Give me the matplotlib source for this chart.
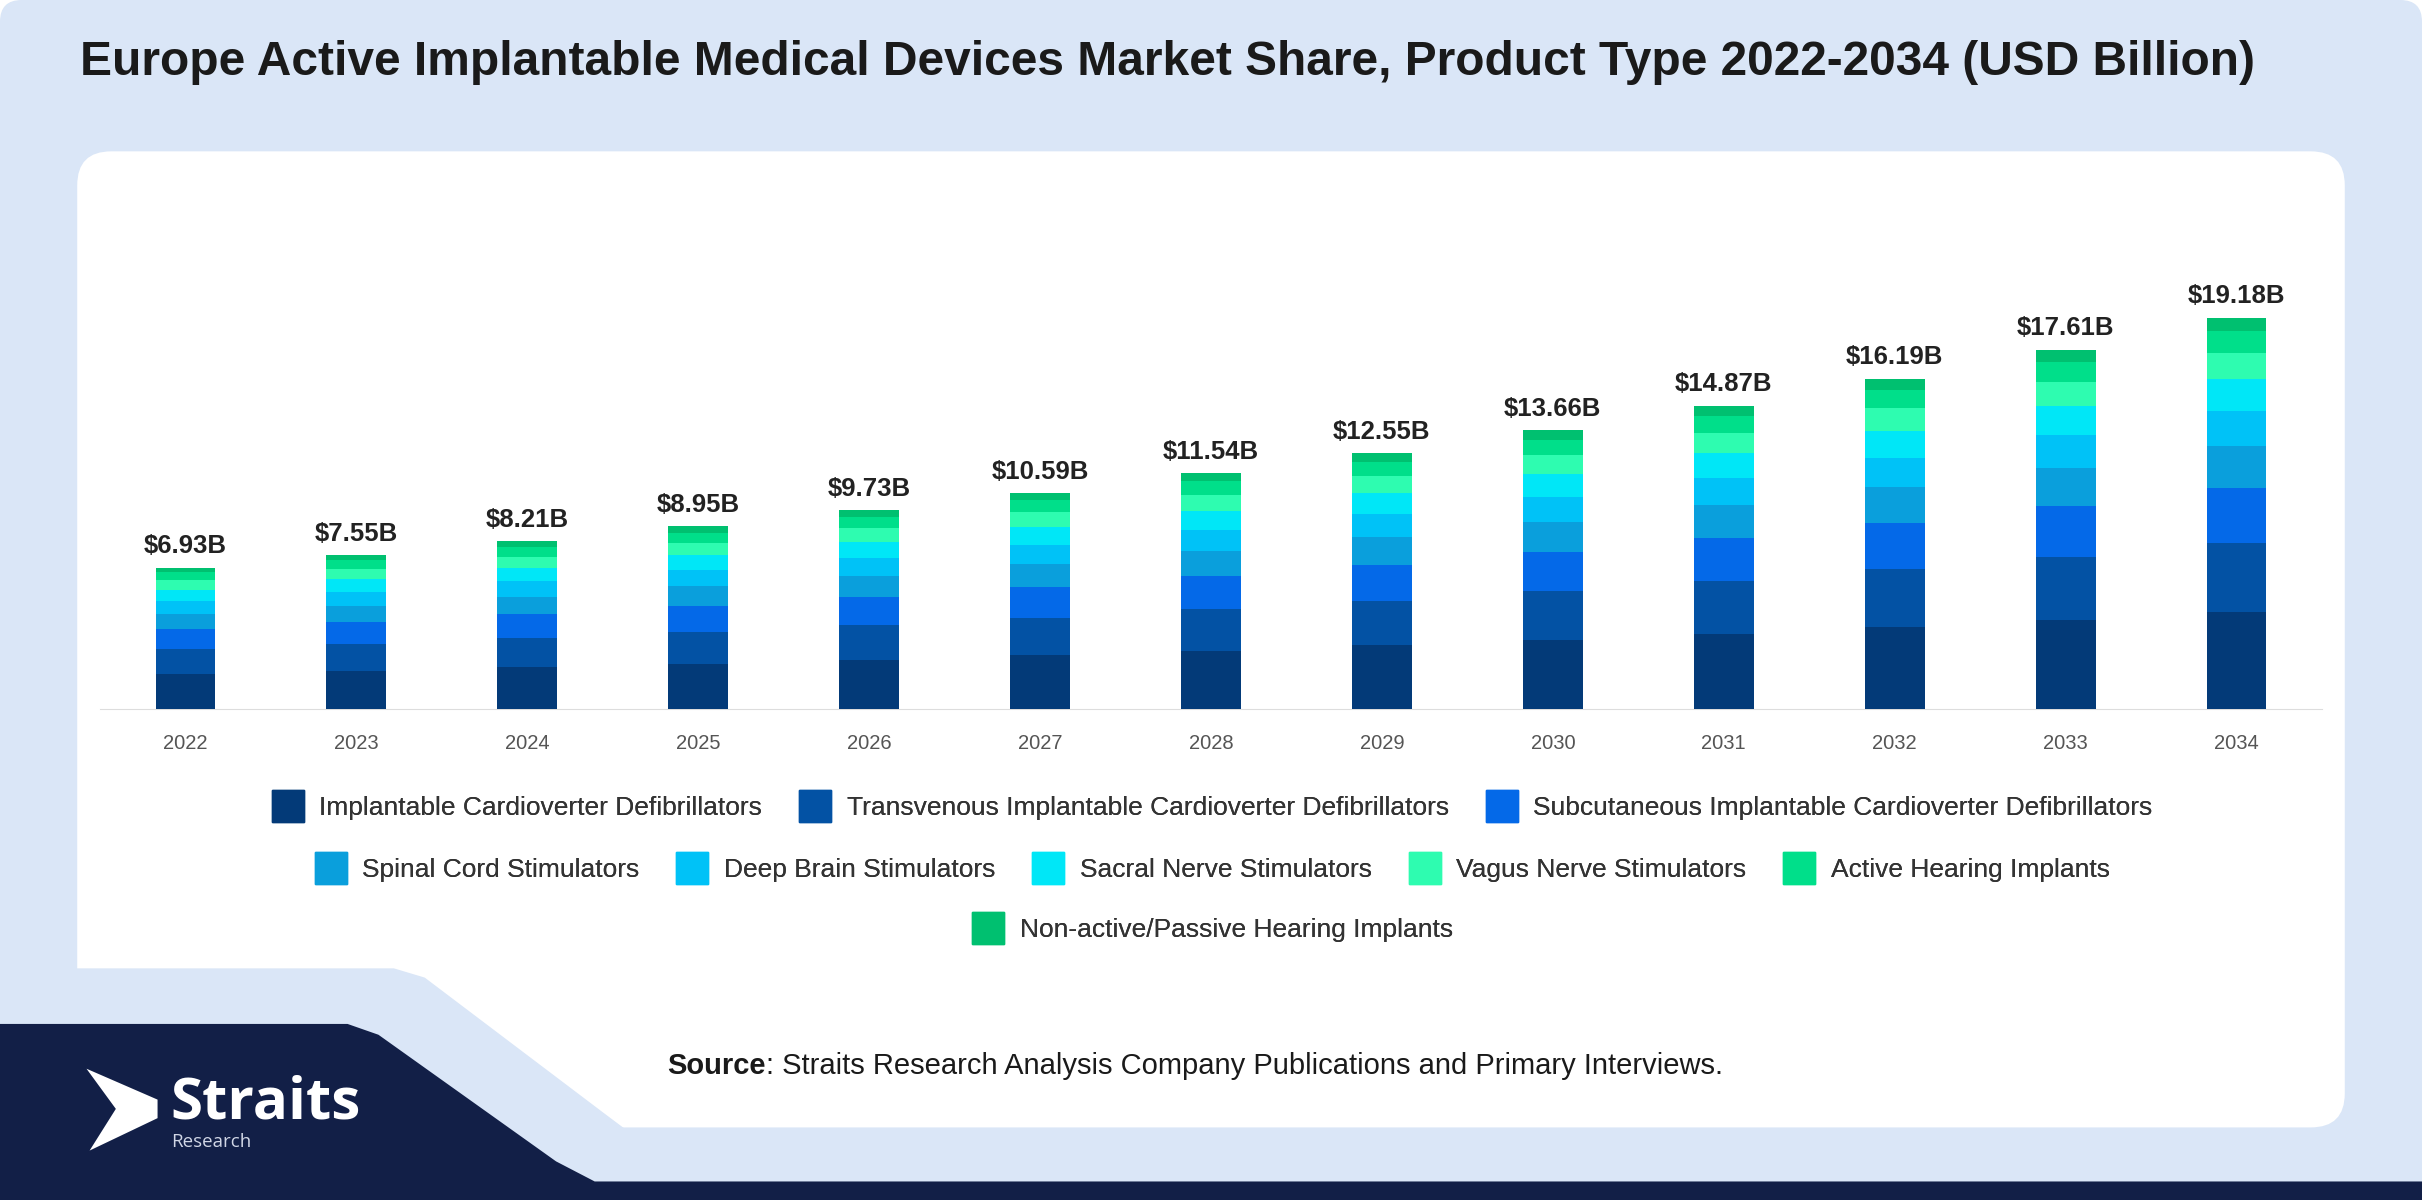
import matplotlib.pyplot as plt
from matplotlib.lines import Line2D
from matplotlib.patches import Polygon, FancyBboxPatch
import numpy as np

plt.rcParams["font.family"] = ["Liberation Sans", "DejaVu Sans"]

years = ["2022", "2023", "2024", "2025", "2026", "2027", "2028", "2029", "2030", "2031", "2032", "2033", "2034"]
totals = [6.93, 7.55, 8.21, 8.95, 9.73, 10.59, 11.54, 12.55, 13.66, 14.87, 16.19, 17.61, 19.18]
segments = [
    "Implantable Cardioverter Defibrillators",
    "Transvenous Implantable Cardioverter Defibrillators",
    "Subcutaneous Implantable Cardioverter Defibrillators",
    "Spinal Cord Stimulators",
    "Deep Brain Stimulators",
    "Sacral Nerve Stimulators",
    "Vagus Nerve Stimulators",
    "Active Hearing Implants",
    "Non-active/Passive Hearing Implants",
]
# share of each segment
shares = [0.248, 0.175, 0.141, 0.107, 0.090, 0.081, 0.068, 0.056, 0.034]
colors = ["#033a78", "#0352a4", "#0469e8", "#0a9fdc", "#00c2f7", "#00e7f7", "#2efcb0", "#00df8a", "#00c070"]

fig = plt.figure(figsize=(24.22, 12), dpi=100)

# background drawn in the 1568x777 reference coordinates
bg = fig.add_axes([0, 0, 1, 1], zorder=-10)
bg.set_xlim(0, 1568)
bg.set_ylim(777, 0)
bg.axis("off")
bg.add_patch(FancyBboxPatch((0, 0), 1568, 777, boxstyle="round,pad=0,rounding_size=14",
                            fc="#dae6f7", ec="none"))
bg.add_patch(FancyBboxPatch((50, 98), 1468, 632, boxstyle="round,pad=0,rounding_size=22",
                            fc="white", ec="none"))
bg.add_patch(Polygon([(40, 627), (255, 627), (275, 633), (390, 720), (410, 735), (40, 735)],
                     fc="#dae6f7", ec="none"))
bg.add_patch(Polygon([(0, 663), (225, 663), (245, 670), (360, 752), (385, 765), (1568, 765),
                      (1568, 777), (0, 777)], fc="#121f47", ec="none"))
bg.add_patch(Polygon([(56, 692), (102, 712), (102, 724), (58, 745), (75, 718)], fc="white", ec="none"))
bg.text(110, 724, "Straits", color="white", fontsize=42, fontweight="bold", va="baseline",
        family=["Open Sans", "DejaVu Sans"])
bg.text(111, 743, "Research", color="#d0d6e6", fontsize=13.5, va="baseline",
        family=["Open Sans", "DejaVu Sans"])

fig.text(0.033, 0.948, "Europe Active Implantable Medical Devices Market Share, Product Type 2022-2034 (USD Billion)",
         fontsize=34.5, fontweight="bold", color="#1a1a1a", va="center")

ax = fig.add_axes([100 / 2422, 1 - 709 / 1200, 2222 / 2422, 449 / 1200])
x = np.arange(len(years))
bottom = np.zeros(len(years))
for name, share, color in zip(segments, shares, colors):
    vals = np.array(totals) * share
    ax.bar(x, vals, 0.35, bottom=bottom, color=color, label=name, zorder=3)
    bottom += vals
for xi, t in zip(x, totals):
    ax.text(xi, t + 0.45, f"${t:.2f}B", ha="center", va="bottom", fontsize=18.5, fontweight="bold", color="#222222")
ax.set_xlim(-0.5, len(years) - 0.5)
ax.set_ylim(0, 22)
ax.set_xticks(x)
ax.set_xticklabels(years, fontsize=14.5, color="#555555")
ax.tick_params(axis="x", length=0, pad=18)
ax.set_yticks([])
for s in ["top", "left", "right"]:
    ax.spines[s].set_visible(False)
ax.spines["bottom"].set_color("#dddddd")

handles = [Line2D([], [], marker="s", ls="none", ms=23, color=c) for c in colors]
rows = [(range(0, 3), 808), (range(3, 8), 870), (range(8, 9), 930)]
for idx, ypx in rows:
    leg = fig.legend([handles[i] for i in idx], [segments[i] for i in idx], loc="center",
                     bbox_to_anchor=(0.5, 1 - ypx / 1200), ncol=len(idx), frameon=False,
                     fontsize=19, handletextpad=0.5, columnspacing=1.3, handlelength=1.4,
                     labelcolor="#333333")
    fig.add_artist(leg)

src_y = 1 - 1066 / 1200
t1 = fig.text(432 / 1568, src_y, "Source", ha="left", va="center", fontsize=21,
              fontweight="bold", color="#1a1a1a")
fig.canvas.draw()
bb = t1.get_window_extent()
fig.text(bb.x1 / 2422, src_y, ": Straits Research Analysis Company Publications and Primary Interviews.",
         ha="left", va="center", fontsize=21, color="#1a1a1a")

fig.savefig("out.png", dpi=100)
